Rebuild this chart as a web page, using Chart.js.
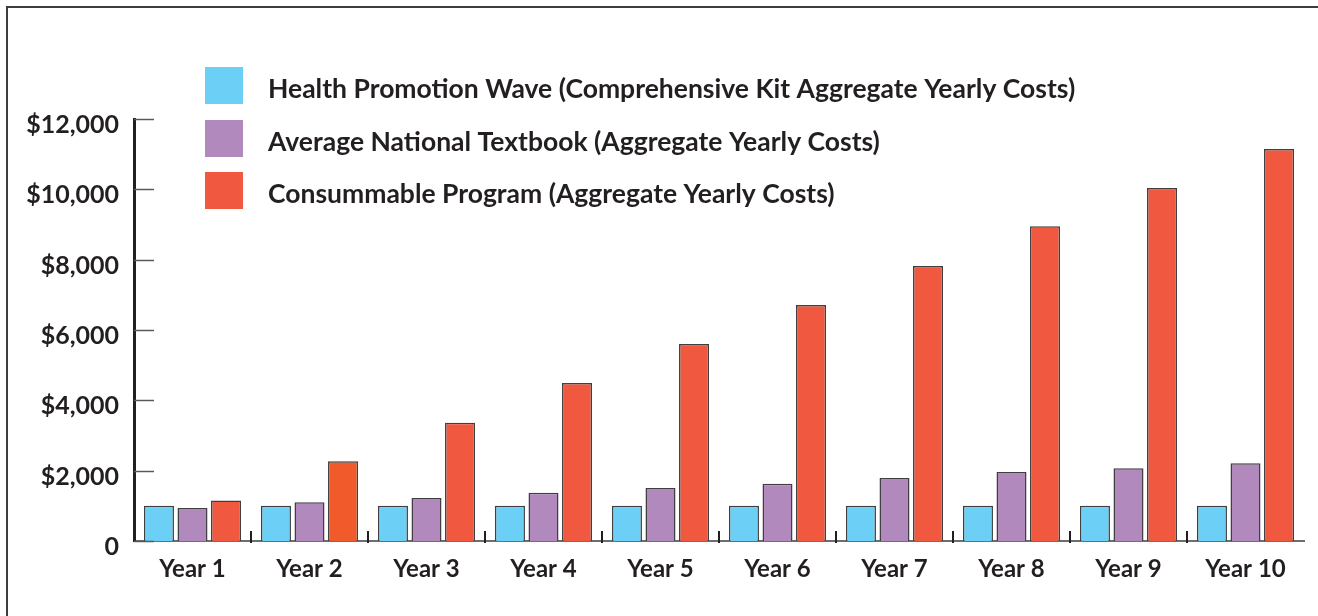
<!DOCTYPE html>
<html>
<head>
<meta charset="utf-8">
<script src="https://cdn.jsdelivr.net/npm/chart.js@4.4.1/dist/chart.umd.min.js"></script>
<style>
    html, body { margin: 0; padding: 0; background: #fff; }
    #wrap { position: relative; width: 1318px; height: 616px; overflow: hidden; }
    #frame {
        position: absolute; left: 6px; top: 6px; width: 1400px; height: 700px;
        border-top: 2px solid #3d3d3d; border-left: 2px solid #3d3d3d;
    }
    canvas { position: absolute; left: 0; top: 0; }
</style>
</head>
<body>
<div id="wrap">
    <div id="frame"></div>
    <canvas id="chart" width="1318" height="616"></canvas>
</div>
<script>
const years = ['Year 1', 'Year 2', 'Year 3', 'Year 4', 'Year 5', 'Year 6', 'Year 7', 'Year 8', 'Year 9', 'Year 10'];

const seriesNames = [
    'Health Promotion Wave (Comprehensive Kit Aggregate Yearly Costs)',
    'Average National Textbook (Aggregate Yearly Costs)',
    'Consummable Program (Aggregate Yearly Costs)',
];

const healthWave = [1000, 1000, 1000, 1000, 1000, 1000, 1000, 1000, 1000, 1000];
const nationalTextbook = [940, 1100, 1220, 1370, 1510, 1630, 1790, 1960, 2070, 2210];
const consumable = [1150, 2270, 3360, 4490, 5600, 6710, 7820, 8950, 10040, 11150];

const yTickValues = [0, 2000, 4000, 6000, 8000, 10000, 12000];

const FONT = 'Lato, "Open Sans", sans-serif';
const TEXT = '#231f20';
const BLUE = '#6bcff6';
const PURPLE = '#b189bd';
const RED = '#f0583f';
const RED_Y2 = '#f15a2b';

function money(v) {
    if (v === 0) return '0';
    return '$' + v.toLocaleString('en-US');
}

// legend drawn in the upper left of the plot, one row per series
const boxLegend = {
    id: 'boxLegend',
    afterDraw(chart) {
        const ctx = chart.ctx;
        const tops = [67, 120, 172];
        ctx.save();
        ctx.font = 'bold 26.5px ' + FONT;
        ctx.textBaseline = 'middle';
        ctx.textAlign = 'left';
        chart.data.datasets.forEach((ds, i) => {
            ctx.fillStyle = ds.legendColor;
            ctx.fillRect(205, tops[i], 38, 37);
            ctx.fillStyle = TEXT;
            ctx.fillText(ds.label, 268, tops[i] + 22);
        });
        ctx.restore();
    },
};

// short tick marks inside the plot and category dividers on the x axis
const axisMarks = {
    id: 'axisMarks',
    afterDatasetsDraw(chart) {
        const ctx = chart.ctx;
        const area = chart.chartArea;
        const x = chart.scales.x;
        const y = chart.scales.y;
        ctx.save();
        ctx.strokeStyle = '#58595b';
        ctx.lineWidth = 1.5;
        y.ticks.forEach((t) => {
            const py = Math.round(y.getPixelForValue(t.value)) + 0.5;
            ctx.beginPath();
            ctx.moveTo(area.left, py);
            ctx.lineTo(area.left + 20, py);
            ctx.stroke();
        });
        ctx.strokeStyle = TEXT;
        ctx.lineWidth = 2;
        for (let i = 1; i < years.length; i++) {
            const px = Math.round((x.getPixelForTick(i - 1) + x.getPixelForTick(i)) / 2);
            ctx.beginPath();
            ctx.moveTo(px, area.bottom - 10);
            ctx.lineTo(px, area.bottom + 2);
            ctx.stroke();
        }
        ctx.restore();
    },
};

const barStyle = {
    borderColor: '#3f3f40',
    borderWidth: 1.5,
    barPercentage: 0.895,
    categoryPercentage: 0.86,
};

new Chart(document.getElementById('chart'), {
    type: 'bar',
    data: {
        labels: years,
        datasets: [
            { label: seriesNames[0], data: healthWave, backgroundColor: BLUE, legendColor: BLUE, ...barStyle },
            { label: seriesNames[1], data: nationalTextbook, backgroundColor: PURPLE, legendColor: PURPLE, ...barStyle },
            {
                label: seriesNames[2],
                data: consumable,
                backgroundColor: (c) => (c.dataIndex === 1 ? RED_Y2 : RED),
                legendColor: RED,
                ...barStyle,
            },
        ],
    },
    options: {
        responsive: false,
        animation: false,
        layout: { padding: { top: 119, right: 14, bottom: 0, left: 0 } },
        plugins: {
            legend: { display: false },
            tooltip: { enabled: false },
        },
        scales: {
            x: {
                grid: { display: false, drawTicks: false },
                border: { display: true, color: '#6d6e71', width: 2 },
                ticks: {
                    color: TEXT,
                    padding: 14,
                    font: { family: FONT, size: 24, weight: 'bold' },
                },
                afterFit(scale) { scale.height = 75; },
            },
            y: {
                min: 0,
                max: 12000,
                grid: { display: false, drawTicks: false },
                border: { display: true, color: TEXT, width: 3 },
                afterBuildTicks(scale) {
                    scale.ticks = yTickValues.map((v) => ({ value: v }));
                },
                ticks: {
                    color: TEXT,
                    padding: 15,
                    labelOffset: 6,
                    font: { family: FONT, size: 25, weight: 'bold' },
                    callback: (v) => money(v),
                },
                afterFit(scale) { scale.width = 134; },
            },
        },
    },
    plugins: [boxLegend, axisMarks],
});
</script>
</body>
</html>
